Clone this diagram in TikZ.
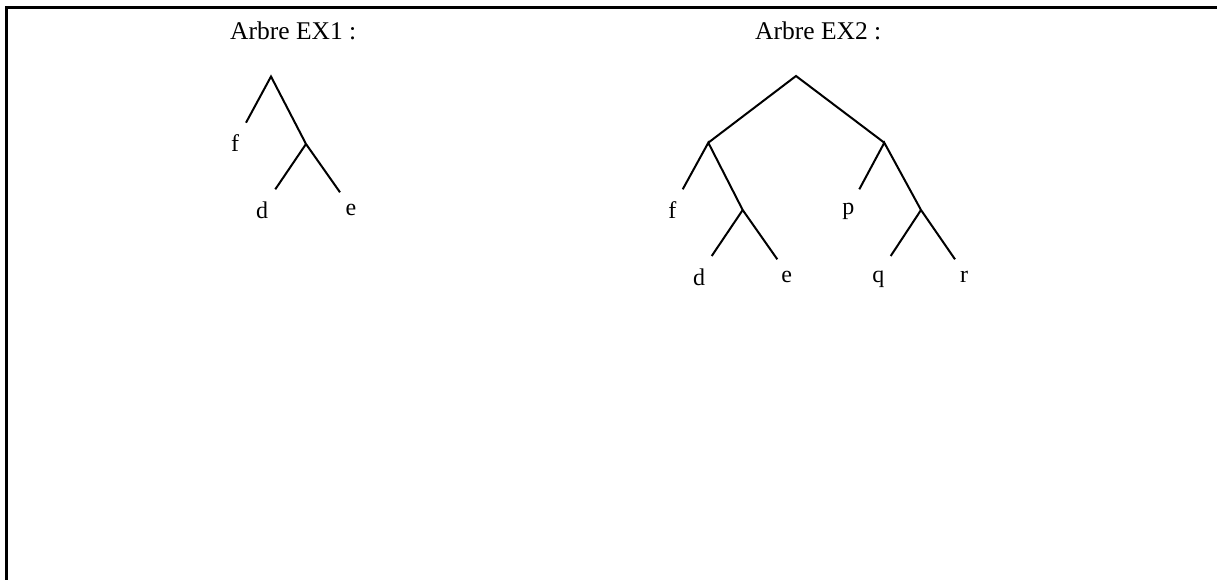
\documentclass[tikz,border=0pt]{standalone}
\usepackage{fontspec}
\setmainfont{Liberation Serif}
\begin{document}
\begin{tikzpicture}[x=1pt,y=-1pt,
  edge/.style={line width=2pt},
  lbl/.style={inner sep=0pt,anchor=base,font=\fontsize{24}{28}\selectfont},
  ttl/.style={inner sep=0pt,anchor=base west,font=\fontsize{25.5}{30}\selectfont}]
\useasboundingbox (0,0) rectangle (1217,580);
% frame
\coordinate (fa) at (6.5,580);
\coordinate (fb) at (6.5,7.5);
\coordinate (fc) at (1217,7.5);
\draw[line width=2.4pt] (fa) -- (fb) -- (fc);
% titles
\node[ttl] (t1) at (230,40) {Arbre EX1 :};
\node[ttl] (t2) at (755,40) {Arbre EX2 :};
% tree 1
\coordinate (a0) at (271,76.5);
\coordinate (af) at (246,122.7);
\coordinate (a1) at (306,144);
\coordinate (ad) at (275.3,189.3);
\coordinate (ae) at (340,192.3);
\draw[edge] (af) -- (a0) -- (a1) -- (ae);
\draw[edge] (ad) -- (a1);
\node[lbl] (lf1) at (235,152) {f};
\node[lbl] (ld1) at (262,218) {d};
\node[lbl] (le1) at (351,215) {e};
% tree 2
\coordinate (b0) at (796,76);
\coordinate (bl) at (708.3,142.7);
\coordinate (br) at (884.3,142.7);
\coordinate (bf) at (682.7,189.3);
\coordinate (blm) at (742.7,210);
\coordinate (bd) at (711.7,256);
\coordinate (be) at (777.3,259.3);
\coordinate (bp) at (859.3,189.3);
\coordinate (brm) at (921,210);
\coordinate (bq) at (890.7,256);
\coordinate (brr) at (955,259.3);
\draw[edge] (bl) -- (b0) -- (br);
\draw[edge] (bf) -- (bl) -- (blm) -- (be);
\draw[edge] (bd) -- (blm);
\draw[edge] (bp) -- (br) -- (brm) -- (brr);
\draw[edge] (bq) -- (brm);
\node[lbl] (lf2) at (672.3,218) {f};
\node[lbl] (lp2) at (848.3,214) {p};
\node[lbl] (ld2) at (699,285) {d};
\node[lbl] (le2) at (786.7,282) {e};
\node[lbl] (lq2) at (878.3,282) {q};
\node[lbl] (lr2) at (964,282) {r};
\end{tikzpicture}
\end{document}
